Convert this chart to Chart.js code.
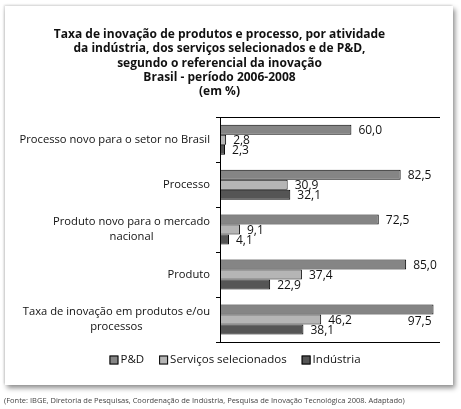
<!DOCTYPE html>
<html lang="pt-BR">
<head>
<meta charset="UTF-8">
<title>Taxa de inovação de produtos e processo</title>
<script src="https://cdn.jsdelivr.net/npm/chart.js"></script>
<style>
  body { margin: 0; background: #fff; width: 461px; height: 409px; overflow: hidden; position: relative; font-family: "Open Sans", sans-serif; }
  #card { position: absolute; left: 5px; top: 6px; width: 448px; height: 379px; background: #fff;
          box-shadow: 2px 3px 5px rgba(0,0,0,0.45), -1px -1px 2px rgba(0,0,0,0.15); }
  #wrap { position: absolute; left: 0; top: 0; width: 461px; height: 409px; }
  #fonte { position: absolute; left: 4px; top: 395px; font-size: 7.5px; color: #444; white-space: nowrap; }
</style>
</head>
<body>
<div id="card"></div>
<div id="wrap"><canvas id="chart" width="461" height="409"></canvas></div>
<div id="fonte">(Fonte: IBGE, Diretoria de Pesquisas, Coordenação de Indústria, Pesquisa de Inovação Tecnológica 2008. Adaptado)</div>

<script>
    const categorias = [
        ['Processo novo para o setor no Brasil'],
        ['Processo'],
        ['Produto novo para o mercado', 'nacional'],
        ['Produto'],
        ['Taxa de inovação em produtos e/ou', 'processos']
    ];
    const pd = [60.0, 82.5, 72.5, 85.0, 97.5];
    const servicos = [2.8, 30.9, 9.1, 37.4, 46.2];
    const industria = [2.3, 32.1, 4.1, 22.9, 38.1];

    const titulo = [
        'Taxa de inovação de produtos e processo, por atividade',
        'da indústria, dos serviços selecionados e de P&D,',
        'segundo o referencial da inovação',
        'Brasil - período 2006-2008',
        '(em %)'
    ];

    const fonte = '"Open Sans", sans-serif';

    // rótulos das categorias (linhas centralizadas entre si, bloco alinhado à direita)
    const rotulosY = {
        id: 'rotulosY',
        afterDraw(chart) {
            const ctx = chart.ctx;
            const y = chart.scales.y;
            ctx.save();
            ctx.font = '11.2px ' + fonte;
            ctx.fillStyle = '#111';
            ctx.textAlign = 'center';
            ctx.textBaseline = 'middle';
            categorias.forEach((linhas, i) => {
                const cy = y.getPixelForValue(i);
                const maxW = Math.max(...linhas.map(l => ctx.measureText(l).width));
                const cx = y.right - 10 - maxW / 2;
                const lh = 15;
                linhas.forEach((l, k) => {
                    ctx.fillText(l, cx, cy - (linhas.length - 1) * lh / 2 + k * lh);
                });
            });
            ctx.restore();
        }
    };

    // valores ao lado das barras
    const valores = {
        id: 'valores',
        afterDatasetsDraw(chart) {
            const ctx = chart.ctx;
            ctx.save();
            ctx.font = '12px ' + fonte;
            ctx.fillStyle = '#111';
            ctx.textBaseline = 'middle';
            chart.data.datasets.forEach((ds, di) => {
                chart.getDatasetMeta(di).data.forEach((bar, i) => {
                    const txt = ds.data[i].toFixed(1).replace('.', ',');
                    const w = ctx.measureText(txt).width;
                    if (bar.x + 7 + w > chart.chartArea.right) {
                        ctx.textAlign = 'right';
                        ctx.fillText(txt, bar.x - 2, bar.y + bar.height + 2);
                    } else {
                        ctx.textAlign = 'left';
                        ctx.fillText(txt, bar.x + 7, bar.y + 1);
                    }
                });
            });
            ctx.restore();
        }
    };

    // legenda desenhada à mão (caixa colada ao texto)
    const legenda = {
        id: 'legenda',
        afterDraw(chart) {
            const ctx = chart.ctx;
            ctx.save();
            ctx.font = '11.5px ' + fonte;
            ctx.textBaseline = 'middle';
            ctx.textAlign = 'left';
            const box = 9, gapTxt = 2, gapItem = 15, cy = 360;
            const itens = chart.data.datasets.map(d => ({
                txt: d.label, cor: d.backgroundColor, w: box + gapTxt + ctx.measureText(d.label).width
            }));
            const total = itens.reduce((s, it) => s + it.w, 0) + gapItem * (itens.length - 1);
            let x = 235 - total / 2;
            itens.forEach(it => {
                ctx.fillStyle = it.cor;
                ctx.fillRect(x, cy - box / 2, box, box);
                ctx.strokeStyle = '#000';
                ctx.lineWidth = 1;
                ctx.strokeRect(x + 0.5, cy - box / 2 + 0.5, box - 1, box - 1);
                ctx.fillStyle = '#111';
                ctx.fillText(it.txt, x + box + gapTxt, cy);
                x += it.w + gapItem;
            });
            ctx.restore();
        }
    };

    const eixoX = pos => ({
        type: 'linear',
        axis: 'x',
        position: pos,
        min: 0,
        max: 100,
        ticks: { display: false },
        grid: { display: false },
        border: { display: true, color: '#000', width: 1 },
        afterFit: s => { s.height = 0; }
    });

    new Chart(document.getElementById('chart'), {
        type: 'bar',
        data: {
            labels: categorias,
            datasets: [
                { label: 'P&D', data: pd, backgroundColor: '#858585' },
                { label: 'Serviços selecionados', data: servicos, backgroundColor: '#b5b5b5' },
                { label: 'Indústria', data: industria, backgroundColor: '#555555' }
            ].map(d => Object.assign(d, {
                borderColor: '#000',
                borderWidth: 1,
                borderSkipped: false,
                barPercentage: 1,
                categoryPercentage: 0.667
            }))
        },
        options: {
            indexAxis: 'y',
            responsive: false,
            animation: false,
            layout: { padding: { left: 0, right: 22, top: 0, bottom: 67 } },
            plugins: {
                title: {
                    display: true,
                    text: titulo,
                    color: '#111',
                    font: { family: fonte, size: 12, weight: 'bold', lineHeight: 1.17 },
                    padding: { top: 28, bottom: 19 }
                },
                legend: { display: false },
                tooltip: { enabled: false }
            },
            scales: {
                x: eixoX('bottom'),
                x2: eixoX('top'),
                y: {
                    ticks: { display: false },
                    grid: { drawOnChartArea: false, tickLength: 4, color: '#000', offset: true },
                    border: { color: '#000', width: 1 },
                    afterFit: s => { s.width = 220; }
                }
            }
        },
        plugins: [rotulosY, valores, legenda]
    });
</script>
</body>
</html>
